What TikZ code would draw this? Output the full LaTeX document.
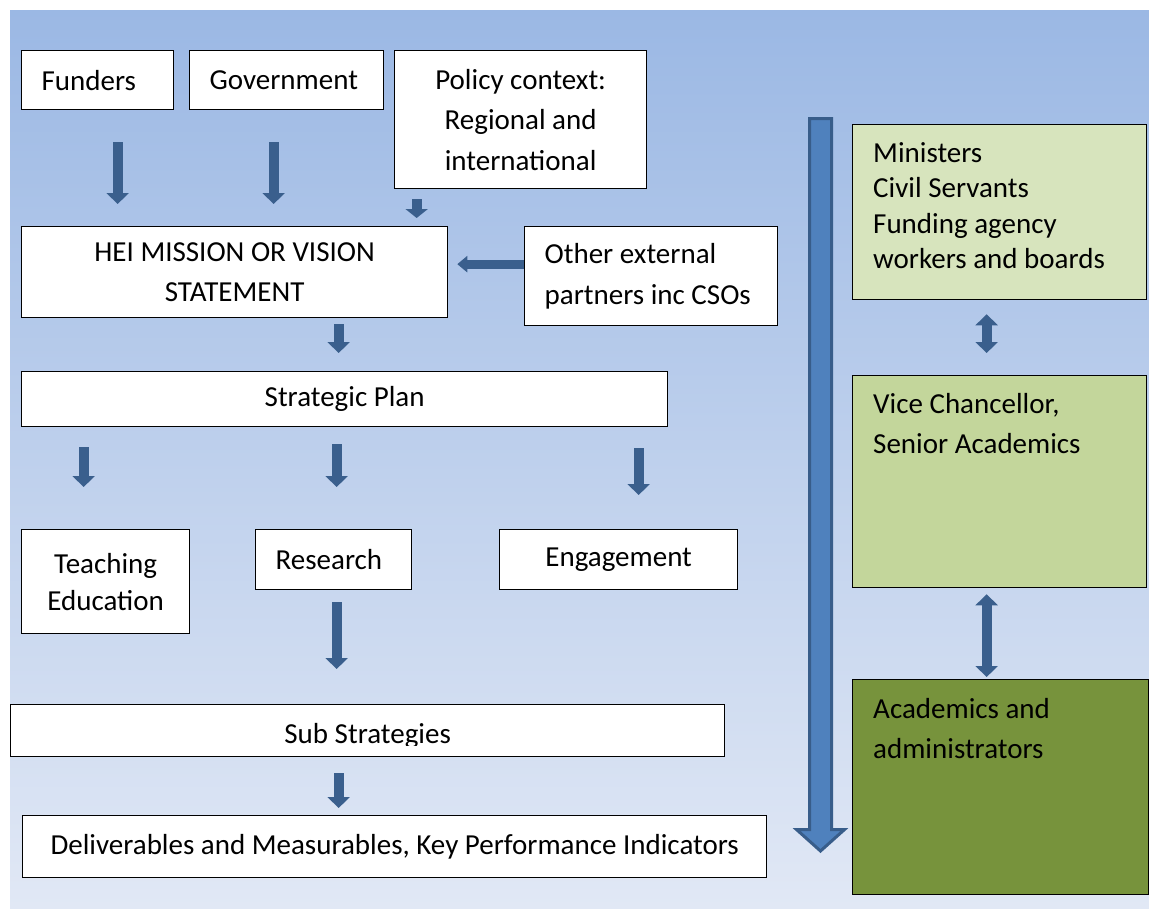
\documentclass[tikz,border=0pt]{standalone}
\usepackage{fontspec}
\setmainfont{Carlito}
\usetikzlibrary{arrows.meta}
\definecolor{bgtop}{HTML}{9BB8E4}
\definecolor{bgbot}{HTML}{E1E8F5}
\definecolor{flowblue}{HTML}{3A5F8D}
\definecolor{bigblue}{HTML}{4F81BD}
\definecolor{bigedge}{HTML}{385D8A}
\definecolor{greenA}{HTML}{D7E4BD}
\definecolor{greenB}{HTML}{C3D69B}
\definecolor{greenC}{HTML}{77933C}
\tikzset{
 box/.style={draw=black, line width=1.3pt, fill=white, anchor=north west, inner sep=0pt,
 align=center, font=\fontsize{29}{40.5}\selectfont},
 leftbox/.style={box, align=flush left, inner xsep=20pt},
 lbl/.style={anchor=north west, inner sep=0pt, align=left, xshift=21pt},
 flow/.style={draw=flowblue, line width=10pt, -{Triangle[width=22pt,length=11pt]}},
 twoway/.style={draw=flowblue, line width=10pt, {Triangle[width=22pt,length=11pt]}-{Triangle[width=22pt,length=11pt]}}
}
\begin{document}
\begin{tikzpicture}[x=1pt, y=-1pt]
 \useasboundingbox (0,0) rectangle (1149,908);
 \shade[top color=bgtop, bottom color=bgbot] (10,10) rectangle (1149,908);

 % left column
 \node[leftbox, text width=112pt, minimum height=59pt] (funders) at (21,50) {Funders};
 \node[leftbox, text width=154pt, minimum height=59pt] (gov) at (189,50) {Government};
 \node[box, minimum width=252pt, minimum height=138pt] (policy) at (394,50) {Policy context:\\Regional and\\international};
 \node[box, minimum width=426pt, minimum height=91pt] (hei) at (21,226) {HEI MISSION OR VISION\\STATEMENT};
 \node[leftbox, text width=213pt, minimum height=99pt] (other) at (524,226) {Other external\\partners inc CSOs};
 \node[box, minimum width=646pt, minimum height=55pt] (strat) at (21,371) {Strategic Plan};
 \node[box, minimum width=168pt, minimum height=104pt, font=\fontsize{29}{37}\selectfont] (teach) at (21,529) {Teaching\\Education};
 \node[leftbox, text width=116pt, minimum height=60pt] (research) at (255,529) {Research};
 \node[box, minimum width=238pt, minimum height=60pt] (engage) at (499,529) {Engagement};
 \node[box, minimum width=714pt, minimum height=52pt,
 path picture={\clip (path picture bounding box.north west) rectangle ([yshift=11pt]path picture bounding box.south east);
 \node[anchor=base, font=\fontsize{29}{40.5}\selectfont] at ([yshift=13pt]path picture bounding box.south) {Sub Strategies};}] (sub) at (10,704) {};
 \node[box, minimum width=744pt, minimum height=62pt] (deliv) at (22,815) {Deliverables and Measurables, Key Performance Indicators};

 % right column
 \node[box, fill=greenA, minimum width=294pt, minimum height=175pt,
 label={[lbl, font=\fontsize{29}{35.5}\selectfont, yshift=-13.15pt]north west:{\strut Ministers\\Civil Servants\\Funding agency\\workers and boards}}] (minis) at (852,124) {};
 \node[box, fill=greenB, minimum width=294pt, minimum height=212pt,
 label={[lbl, font=\fontsize{29}{40.5}\selectfont, yshift=-9.65pt]north west:{\strut Vice Chancellor,\\Senior Academics}}] (vc) at (852,375) {};
 \node[box, fill=greenC, minimum width=296pt, minimum height=215pt,
 label={[lbl, font=\fontsize{29}{40.5}\selectfont, yshift=-10.65pt]north west:{\strut Academics and\\administrators}}] (acad) at (852,679) {};

 % big downward arrow
 \filldraw[fill=bigblue, draw=bigedge, line width=3pt] (809.5,118.5) -- (831.5,118.5) -- (831.5,829.5)
 -- (844.5,829.5) -- (820.5,851) -- (796.5,829.5) -- (809.5,829.5) -- cycle;

 % arrows
 \draw[flow, shorten <=32pt, shorten >=22pt] ([xshift=20pt]funders.south) -- ([xshift=20pt]funders.south |- hei.north);
 \draw[flow, shorten <=32pt, shorten >=22pt] ([xshift=-13pt]gov.south) -- ([xshift=-13pt]gov.south |- hei.north);
 \draw[flow, -{Triangle[width=22pt,length=9pt]}, shorten <=10pt, shorten >=8pt] ([xshift=-104pt]policy.south) -- ([xshift=-104pt]policy.south |- hei.north);
 \draw[flow, line width=9pt, -{Triangle[width=16pt,length=10pt]}, shorten >=9pt] ([yshift=12pt]other.west) -- ([yshift=12pt]other.west -| hei.east);
 \draw[flow, shorten <=6pt, shorten >=18pt] ([xshift=104pt]hei.south) -- ([xshift=104pt]hei.south |- strat.north);
 \draw[flow, shorten <=20pt, shorten >=42pt] ([xshift=-22pt]teach.north |- strat.south) -- ([xshift=-22pt]teach.north);
 \draw[flow, shorten <=17pt, shorten >=42pt] ([xshift=3pt]research.north |- strat.south) -- ([xshift=3pt]research.north);
 \draw[flow, shorten <=21pt, shorten >=34pt] ([xshift=20pt]engage.north |- strat.south) -- ([xshift=20pt]engage.north);
 \draw[flow, shorten <=12pt, shorten >=35pt] ([xshift=3pt]research.south) -- ([xshift=3pt]research.south |- sub.north);
 \draw[flow, shorten <=16pt, shorten >=7pt] ([xshift=-29pt]sub.south) -- ([xshift=-29pt]sub.south |- deliv.north);
 \draw[twoway, shorten <=14pt, shorten >=22pt] ([xshift=-13pt]minis.south) -- ([xshift=-13pt]minis.south |- vc.north);
 \draw[twoway, shorten <=6pt, shorten >=2pt] ([xshift=-13pt]vc.south) -- ([xshift=-13pt]vc.south |- acad.north);
\end{tikzpicture}
\end{document}
